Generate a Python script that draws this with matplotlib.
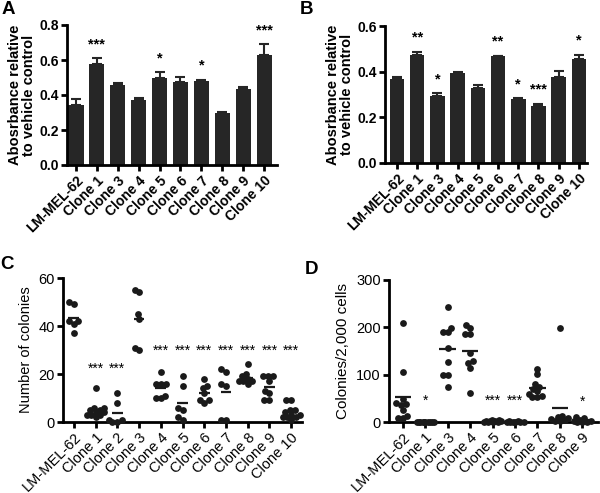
import numpy as np
import matplotlib
matplotlib.use("Agg")
import matplotlib.pyplot as plt

plt.rcParams.update({"font.family": ["Liberation Sans", "DejaVu Sans"], "font.size": 9})

# A / B: absorbance bars
ab_labels = ["LM-MEL-62", "Clone 1", "Clone 3", "Clone 4", "Clone 5",
             "Clone 6", "Clone 7", "Clone 8", "Clone 9", "Clone 10"]
a_mean = [0.345, 0.58, 0.46, 0.37, 0.495, 0.475, 0.48, 0.30, 0.435, 0.63]
a_err = [0.035, 0.03, 0.008, 0.015, 0.035, 0.03, 0.008, 0.003, 0.012, 0.06]
a_stars = ["", "***", "", "", "*", "", "*", "", "", "***"]
b_mean = [0.37, 0.472, 0.292, 0.395, 0.328, 0.468, 0.28, 0.25, 0.375, 0.455]
b_err = [0.008, 0.015, 0.013, 0.005, 0.015, 0.002, 0.005, 0.01, 0.03, 0.02]
b_stars = ["", "**", "*", "", "", "**", "*", "***", "", "*"]

# C: colony counts
c_labels = ["LM-MEL-62", "Clone 1", "Clone 2", "Clone 3", "Clone 4", "Clone 5",
            "Clone 6", "Clone 7", "Clone 8", "Clone 9", "Clone 10"]
c_vals = [
    [42, 49, 50, 37, 41, 42],
    [14, 6, 6, 5, 4, 4, 3, 3, 3, 2, 5],
    [12, 1, 0, 0, 8, 1],
    [45, 54, 55, 43, 30, 31],
    [21, 16, 16, 11, 10, 10, 16],
    [15, 19, 6, 5, 2, 1],
    [15, 18, 14, 12, 9, 9, 8],
    [16, 21, 22, 15, 1, 1],
    [24, 20, 19, 18, 17, 17, 16, 17],
    [19, 19, 19, 17, 13, 12, 9, 9],
    [9, 9, 5, 5, 4, 3, 3, 2, 2, 2, 1],
]
c_stars = ["", "***", "***", "", "***", "***", "***", "***", "***", "***", "***"]

# D: colonies / 2,000 cells
d_labels = ["LM-MEL-62", "Clone 1", "Clone 3", "Clone 4", "Clone 5",
            "Clone 6", "Clone 7", "Clone 8", "Clone 9"]
d_vals = [
    [210, 105, 48, 40, 38, 35, 25, 13, 8, 8],
    [0, 0, 0, 0, 0, 0, 0, 0, 0, 0],
    [243, 198, 190, 190, 157, 127, 100, 100, 75],
    [205, 198, 186, 185, 145, 129, 125, 115, 62],
    [5, 3, 2, 1, 0, 0, 0, 2, 4, 3],
    [2, 1, 0, 0, 0, 1, 0, 2],
    [102, 113, 80, 75, 70, 65, 60, 55, 52, 52],
    [198, 12, 10, 8, 6, 5, 3, 2],
    [10, 8, 5, 3, 2, 1, 0, 0],
]
d_stars = ["", "*", "", "", "***", "***", "", "", "*"]

W, H = 600, 493
fig = plt.figure(figsize=(W / 100, H / 100), dpi=100)


def px_axes(x0, x1, ytop, ybot):
    return fig.add_axes([x0 / W, 1 - ybot / H, (x1 - x0) / W, (ybot - ytop) / H])


def style(ax, bold, ysize, xsize):
    for s in ["top", "right"]:
        ax.spines[s].set_visible(False)
    for s in ["left", "bottom"]:
        ax.spines[s].set_linewidth(2)
    ax.tick_params(width=2, length=4, pad=2)
    ax.tick_params(axis="y", labelsize=ysize)
    ax.tick_params(axis="x", labelsize=xsize)
    w = "bold" if bold else "normal"
    for t in ax.get_yticklabels() + ax.get_xticklabels():
        t.set_fontweight(w)


def swarm(vals, xpx, ypx, d=5.0, cap=8.5):
    # small beeswarm with a width cap: dots may overlap once the cap is hit
    placed = []
    offs = [0.0] * len(vals)
    cands = sorted(np.arange(-cap, cap + 0.01, 0.5), key=abs)
    for i in np.argsort(vals):
        y = vals[i] * ypx
        best, best_gap = None, -1
        for c in cands:
            gap = min([np.hypot(c - px, y - py) for px, py in placed] or [99])
            if gap >= d:
                best = c
                break
            if gap > best_gap:
                best, best_gap = c, gap
        placed.append((best, y))
        offs[i] = best / xpx
    return offs


def bars(ax, means, errs, stars, labels, ylim, yticks, fmt):
    x = np.arange(len(means))
    ax.bar(x, means, width=0.72, color="#262626")
    ax.errorbar(x, means, yerr=[np.zeros(len(errs)), errs], fmt="none",
                ecolor="#262626", elinewidth=1.5, capsize=3.5, capthick=1.5)
    for xi, m, e, s in zip(x, means, errs, stars):
        if s:
            ax.text(xi, m + e + 0.05 * ylim[1], s, ha="center", va="bottom",
                    fontsize=10.5, fontweight="bold")
    ax.set_ylim(*ylim)
    ax.set_yticks(yticks)
    ax.set_yticklabels([fmt.format(v) for v in yticks])
    ax.set_xticks(x)
    ax.set_xticklabels(labels, rotation=45, ha="right", rotation_mode="anchor")
    ax.set_ylabel("Abosrbance relative\nto vehicle control", fontsize=10.5,
                  fontweight="bold", labelpad=2, linespacing=1.0)
    style(ax, True, 10, 10)


# A
axA = px_axes(67, 277, 25, 165)
bars(axA, a_mean, a_err, a_stars, ab_labels, (0, 0.8), [0, 0.2, 0.4, 0.6, 0.8], "{:.1f}")
axA.set_xlim(-0.43, 9.62)

# B
axB = px_axes(385, 587, 26, 163)
bars(axB, b_mean, b_err, b_stars, ab_labels, (0, 0.6), [0, 0.2, 0.4, 0.6], "{:.1f}")
axB.set_xlim(-0.59, 9.4)


def dots(ax, vals, stars, labels, xpx, ypx, halfw, star_y, ymax, ylabel, yticks, ylsize):
    for i, v in enumerate(vals):
        off = swarm(v, xpx, ypx)
        ax.scatter(i + np.array(off), v, s=24, color="#1a1a1a", clip_on=False,
                   zorder=3, linewidths=0)
        m = np.mean(v)
        ax.plot([i - halfw, i + halfw], [m, m], color="#1a1a1a", lw=1.6, zorder=4,
                solid_capstyle="butt", clip_on=False)
        if stars[i]:
            ax.text(i, star_y[i], stars[i], ha="center", va="center", fontsize=10)
    ax.set_ylim(0, ymax)
    ax.set_yticks(yticks)
    ax.set_xticks(range(len(vals)))
    ax.set_xticklabels(labels, rotation=45, ha="right", rotation_mode="anchor")
    ax.set_ylabel(ylabel, fontsize=ylsize, labelpad=4)
    style(ax, False, 10.5, 10.5)


# C
axC = px_axes(63, 302, 278, 422)
c_star_y = [0, 22, 22, 0] + [29.5] * 7
dots(axC, c_vals, c_stars, c_labels, 21.6, 2.4, 0.25, c_star_y, 60,
     "Number of colonies", [0, 20, 40, 60], 10.5)
axC.set_xlim(-0.5, 10.5)

# D
axD = px_axes(389, 598, 280, 422)
d_star_y = [0, 45, 0, 0, 44, 44, 0, 0, 42]
dots(axD, d_vals, d_stars, d_labels, 22.4, 141.7 / 300, 0.37, d_star_y, 300,
     "Colonies/2,000 cells", [0, 100, 200, 300], 11)
axD.set_xlim(-0.62, 8.7)

for lab, (x, y) in zip("ABCD", [(2, 1), (300, 1), (0, 256), (305, 261)]):
    fig.text(x / W, 1 - y / H, lab, fontsize=13.5, fontweight="bold", va="top", ha="left")

fig.savefig("out.png", dpi=100)
